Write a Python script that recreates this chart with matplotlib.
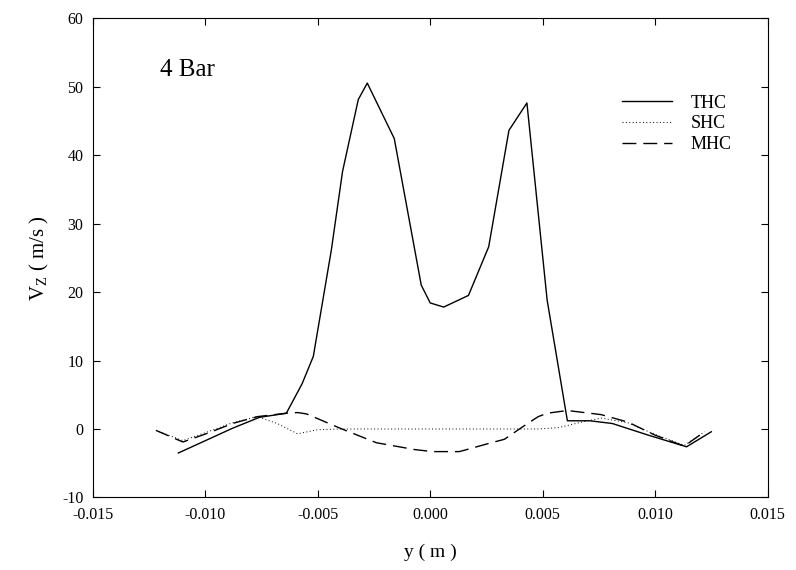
import matplotlib
matplotlib.use("Agg")
import matplotlib.pyplot as plt

plt.rcParams['font.family'] = ['Liberation Serif', 'DejaVu Serif']
plt.rcParams['mathtext.fontset'] = 'custom'
plt.rcParams['mathtext.rm'] = 'Liberation Serif'
plt.rcParams['axes.unicode_minus'] = False

# --- data ---
thc_y = [-0.0112, -0.0100, -0.0088, -0.0076, -0.0064, -0.0057, -0.0052, -0.0044,
         -0.0039, -0.0032, -0.0028, -0.0016, -0.0004, 0.0000, 0.0006, 0.0017,
         0.0026, 0.0035, 0.0043, 0.0052, 0.0061, 0.0071, 0.0081, 0.0097,
         0.0114, 0.0125]
thc_v = [-3.5, -1.7, 0.1, 1.7, 2.3, 6.6, 10.6, 26.1,
         37.6, 48.1, 50.5, 42.4, 21.0, 18.4, 17.8, 19.5,
         26.6, 43.6, 47.6, 18.8, 1.2, 1.2, 0.8, -0.9,
         -2.6, -0.4]

shc_y = [-0.0122, -0.0110, -0.0098, -0.0088, -0.0077, -0.0068, -0.0059, -0.0050,
         -0.0040, 0.0000, 0.0040, 0.0048, 0.0057, 0.0066, 0.0076, 0.0088,
         0.0100, 0.0113, 0.0122]
shc_v = [-0.2, -1.7, -0.3, 0.9, 1.8, 0.8, -0.7, -0.1,
         0.0, 0.0, 0.0, 0.0, 0.2, 0.9, 1.6, 0.9,
         -0.8, -2.4, -0.4]

mhc_y = [-0.0122, -0.0110, -0.0098, -0.0088, -0.0077, -0.0064, -0.0059, -0.0055,
         -0.0040, -0.0024, -0.0007, 0.0001, 0.0013, 0.0025, 0.0033, 0.0041,
         0.0048, 0.0052, 0.0061, 0.0076, 0.0088, 0.0100, 0.0113, 0.0122]
mhc_v = [-0.2, -1.9, -0.5, 0.8, 1.8, 2.3, 2.4, 2.2,
         0.1, -2.0, -3.0, -3.3, -3.3, -2.2, -1.5, 0.3,
         1.8, 2.3, 2.7, 2.1, 1.0, -0.9, -2.5, -0.4]

x_ticks = [-0.015, -0.010, -0.005, 0.000, 0.005, 0.010, 0.015]
y_ticks = [-10, 0, 10, 20, 30, 40, 50, 60]

fig = plt.figure(figsize=(7.96, 5.70), dpi=100)
ax = fig.add_axes([0.1168, 0.1272, 0.8474, 0.8412])

ax.plot(thc_y, thc_v, color='black', lw=1.0, ls='-', label='THC')
ax.plot(shc_y, shc_v, color='black', lw=0.7, ls=(0, (1, 2.5)), label='SHC')
ax.plot(mhc_y, mhc_v, color='black', lw=1.0, ls=(0, (10, 5)), label='MHC')

ax.set_xlim(-0.015, 0.015)
ax.set_ylim(-10, 60)
ax.set_xticks(x_ticks)
ax.set_xticklabels(['%.3f' % t for t in x_ticks])
ax.set_yticks(y_ticks)
ax.tick_params(direction='in', top=True, right=True, length=5, width=0.8,
               labelsize=11.5, pad=7)
for s in ax.spines.values():
    s.set_linewidth(0.8)

ax.set_xlabel('y ( m )', fontsize=14, labelpad=15)
ax.set_ylabel(r'V$_{\rm Z}$ ( m/s )', fontsize=15, labelpad=8)

ax.text(0.099, 0.891, '4 Bar', transform=ax.transAxes, fontsize=18,
        ha='left', va='center')

ax.legend(loc='upper left', bbox_to_anchor=(0.784, 0.84), frameon=False,
          fontsize=13, handlelength=2.8, borderpad=0, borderaxespad=0,
          labelspacing=0.2, handletextpad=1.0)

fig.savefig('out.png', dpi=100)
